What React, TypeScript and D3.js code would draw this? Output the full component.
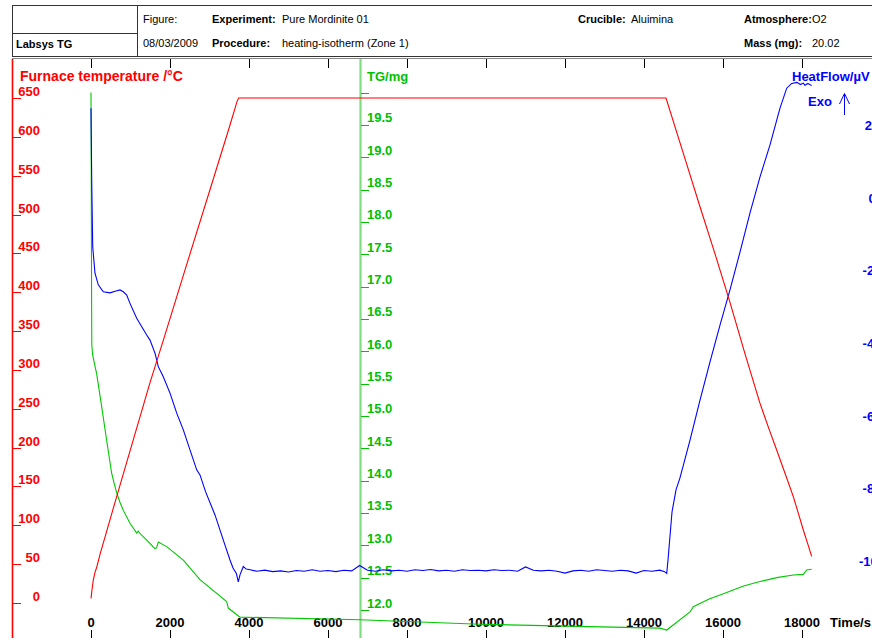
import React from 'react';
import * as d3 from 'd3';

// ---- Axis ticks ----
const timeTicks = [0, 2000, 4000, 6000, 8000, 10000, 12000, 14000, 16000, 18000];
const tempTicks = [0, 50, 100, 150, 200, 250, 300, 350, 400, 450, 500, 550, 600, 650];
const massTicks = [12.0, 12.5, 13.0, 13.5, 14.0, 14.5, 15.0, 15.5, 16.0, 16.5, 17.0, 17.5, 18.0, 18.5, 19.0, 19.5, 20.0];
const massLabelled = [12.0, 12.5, 13.0, 13.5, 14.0, 14.5, 15.0, 15.5, 16.0, 16.5, 17.0, 17.5, 18.0, 18.5, 19.0, 19.5];
const heatTicks = [20, 0, -20, -40, -60, -80, -100];

// ---- Header fields ----
const headerRow1 = [
  { label: 'Experiment:', value: 'Pure Mordinite 01', x: 212, vx: 282 },
  { label: 'Crucible:', value: 'Aluimina', x: 578, vx: 631 },
  { label: 'Atmosphere:', value: 'O2', x: 744, vx: 812 },
];
const headerRow2 = [
  { label: 'Procedure:', value: 'heating-isotherm (Zone 1)', x: 212, vx: 282 },
  { label: 'Mass (mg):', value: '20.02', x: 744, vx: 812 },
];

// ---- Furnace temperature, °C vs time, s ----
const furnaceTemp: [number, number][] = [
  [0, 6], [30, 19], [60, 30], [100, 39], [150, 47], [230, 63], [650, 137], [1070, 210],
  [1490, 283], [1830, 338], [2400, 432], [3000, 530], [3500, 612], [3700, 646], [3740, 650],
  [14557, 650], [15000, 578], [15418, 510], [15800, 449], [16177, 387], [16550, 322],
  [16937, 257], [17150, 226], [17359, 197], [17570, 167], [17780, 137], [17910, 115],
  [18033, 94], [18140, 77], [18245, 60],
];

// ---- TG, mg vs time, s ----
const tgMass: [number, number][] = [
  [0, 20.0], [5, 19.2], [10, 18.0], [15, 16.8], [20, 16.1], [40, 15.95], [90, 15.8],
  [144, 15.65], [271, 15.14], [397, 14.62], [524, 14.11], [590, 13.95], [651, 13.81],
  [730, 13.67], [818, 13.54], [987, 13.34], [1157, 13.19], [1197, 13.22], [1230, 13.19],
  [1410, 13.08], [1620, 12.95], [1660, 12.96], [1704, 13.05], [1916, 12.98], [2337, 12.77],
  [2759, 12.47], [3435, 12.13], [3476, 12.03], [3772, 11.89], [6810, 11.85], [9848, 11.78],
  [14405, 11.72], [14575, 11.69], [15165, 11.97], [15248, 12.05], [15650, 12.17],
  [16094, 12.27], [16520, 12.37], [16937, 12.44], [17360, 12.50], [17780, 12.54],
  [18033, 12.55], [18119, 12.62], [18245, 12.63],
];

// ---- Heat flow, µV vs time, s: heating ramp ----
const heatFlowRamp: [number, number][] = [
  [0, 26.5], [18, 6.7], [43, -11.6], [101, -18.9], [185, -22.1], [311, -24.0],
  [481, -24.3], [633, -23.8], [734, -23.5], [818, -24.0], [904, -24.9], [987, -27.2],
  [1157, -31.3], [1410, -35.9], [1494, -37.3], [1620, -40.9], [1704, -44.6],
  [1830, -47.4], [2000, -51.9], [2170, -57.4], [2337, -62.0], [2506, -67.5],
  [2676, -73.0], [2759, -74.4], [2900, -79.0], [3139, -85.4], [3392, -93.7],
  [3519, -97.8], [3595, -100.0], [3680, -101.5], [3729, -103.8], [3772, -101.9],
  [3856, -99.6], [3930, -100.3],
];

// ---- Heat flow during the isotherm, sampled every 200 s from 4000 s ----
const isoStart = 4000;
const isoStep = 200;
const heatFlowIso = [
  -100.4, -100.9, -100.6, -101.0, -100.8, -101.1, -100.7, -100.9, -100.5, -100.9,
  -100.7, -101.0, -100.6, -100.8, -99.3, -100.6, -100.9, -100.5, -100.8, -100.6,
  -100.9, -100.5, -100.7, -100.4, -100.8, -100.6, -100.9, -100.5, -100.7, -100.6,
  -100.8, -100.5, -100.7, -100.6, -100.9, -99.7, -100.6, -100.8, -100.6, -100.9,
  -101.4, -100.8, -100.6, -100.9, -100.5, -100.7, -100.9, -100.6, -100.8, -101.4,
  -100.7, -100.9, -100.6,
];

// ---- Heat flow, cooling ----
const heatFlowCool: [number, number][] = [
  [14520, -101.0], [14575, -101.5], [14608, -97.8], [14709, -84.6], [14810, -78.5],
  [14911, -75.2], [15165, -64.8], [15418, -53.8], [15671, -43.3], [15924, -33.2],
  [16177, -23.5], [16430, -13.1], [16684, -2.3], [16937, 7.6], [17190, 16.4],
  [17443, 26.5], [17613, 32.0], [17739, 33.3], [17873, 33.6], [17960, 33.0],
  [18033, 33.4], [18076, 32.8], [18150, 33.3], [18245, 32.7],
];

const W = 872;
const H = 638;
const FONT = "'Liberation Sans', Arial, Helvetica, sans-serif";
const RED = '#ff0000';
const GREEN = '#00c000';
const BLUE = '#0000ff';

export default function App() {
  const x = d3.scaleLinear().domain([0, 18000]).range([91, 802]);
  const yT = d3.scaleLinear().domain([0, 650]).range([603, 98]);
  const yM = d3.scaleLinear().domain([12, 20]).range([610, 92.5]);
  const yH = d3.scaleLinear().domain([-100, 20]).range([568, 131.8]);

  const heatFlow: [number, number][] = [
    ...heatFlowRamp,
    ...heatFlowIso.map((v, i) => [isoStart + i * isoStep, v] as [number, number]),
    ...heatFlowCool,
  ];

  const lineT = d3.line<[number, number]>().x((d) => x(d[0])).y((d) => yT(d[1]));
  const lineM = d3.line<[number, number]>().x((d) => x(d[0])).y((d) => yM(d[1]));
  const lineH = d3.line<[number, number]>().x((d) => x(d[0])).y((d) => yH(d[1]));

  const greenAxisX = 360.5;

  return (
    <svg
      width={W}
      height={H}
      viewBox={`0 0 ${W} ${H}`}
      style={{ position: 'absolute', left: 0, top: 0, background: '#fff', fontFamily: FONT }}
    >
      <rect x={0} y={0} width={W} height={H} fill="#fff" />

      {/* Header box */}
      <g stroke="#333" strokeWidth={1} fill="none">
        <line x1={12} y1={5.5} x2={W} y2={5.5} />
        <line x1={12.5} y1={5} x2={12.5} y2={57} />
        <line x1={137.5} y1={5} x2={137.5} y2={57} />
        <line x1={12} y1={33.5} x2={137} y2={33.5} />
        <line x1={12} y1={56.5} x2={W} y2={56.5} />
        <line x1={12} y1={58.5} x2={W} y2={58.5} stroke="#888" />
      </g>
      <g fontSize={11} fill="#000" dominantBaseline="central">
        <text x={16} y={44} fontWeight="bold">Labsys TG</text>
        <text x={143} y={19}>Figure:</text>
        <text x={143} y={43}>08/03/2009</text>
        {headerRow1.map((h) => (
          <g key={h.label}>
            <text x={h.x} y={19} fontWeight="bold">{h.label}</text>
            <text x={h.vx} y={19}>{h.value}</text>
          </g>
        ))}
        {headerRow2.map((h) => (
          <g key={h.label}>
            <text x={h.x} y={43} fontWeight="bold">{h.label}</text>
            <text x={h.vx} y={43}>{h.value}</text>
          </g>
        ))}
      </g>

      {/* Time ticks, top and bottom */}
      <g stroke="#000" strokeWidth={1}>
        {timeTicks.map((t) => (
          <g key={t}>
            <line x1={Math.round(x(t)) + 0.5} y1={59} x2={Math.round(x(t)) + 0.5} y2={68} />
            <line x1={Math.round(x(t)) + 0.5} y1={630} x2={Math.round(x(t)) + 0.5} y2={H} />
          </g>
        ))}
      </g>
      <g fontSize={13} fontWeight="bold" fill="#000" textAnchor="middle" dominantBaseline="central">
        {timeTicks.map((t) => (
          <text key={t} x={x(t)} y={622}>{t}</text>
        ))}
        <text x={830} y={622} textAnchor="start">Time/s</text>
      </g>

      {/* Furnace temperature axis (left) */}
      <line x1={12.5} y1={59} x2={12.5} y2={H} stroke={RED} strokeWidth={1.6} />
      <g stroke={RED} strokeWidth={1}>
        {tempTicks.map((v) => (
          <line key={v} x1={12} y1={Math.round(yT(v)) + 0.5} x2={21} y2={Math.round(yT(v)) + 0.5} />
        ))}
      </g>
      <g fontSize={13} fontWeight="bold" fill={RED} textAnchor="end" dominantBaseline="central">
        {tempTicks.map((v) => (
          <text key={v} x={40} y={yT(v) - 6.5}>{v}</text>
        ))}
      </g>
      <text x={20} y={76} fontSize={14} fontWeight="bold" fill={RED} dominantBaseline="central">
        Furnace temperature /°C
      </text>

      {/* TG axis (middle) */}
      <line x1={greenAxisX} y1={59} x2={greenAxisX} y2={H} stroke="#7fdc7f" strokeWidth={2.2} />
      <g stroke={GREEN} strokeWidth={1}>
        {massTicks.map((v) => (
          <line key={v} x1={361} y1={Math.round(yM(v)) + 0.5} x2={369} y2={Math.round(yM(v)) + 0.5} />
        ))}
      </g>
      <g fontSize={13} fontWeight="bold" fill={GREEN} dominantBaseline="central">
        {massLabelled.map((v) => (
          <text key={v} x={367} y={yM(v) - 7}>{v.toFixed(1)}</text>
        ))}
      </g>
      <text x={367} y={76} fontSize={13} fontWeight="bold" fill={GREEN} dominantBaseline="central">
        TG/mg
      </text>

      {/* Heat flow axis (right, partly beyond the frame) */}
      <g fontSize={13} fontWeight="bold" fill={BLUE} textAnchor="middle" dominantBaseline="central">
        {heatTicks.map((v) => (
          <text key={v} x={872} y={yH(v) - 6.5}>{v}</text>
        ))}
      </g>
      <text x={792} y={76} fontSize={13} fontWeight="bold" fill={BLUE} dominantBaseline="central">
        HeatFlow/µV
      </text>
      <text x={808} y={101} fontSize={13} fontWeight="bold" fill={BLUE} dominantBaseline="central">
        Exo
      </text>
      <path d="M844.5,115 V94 M839.5,104 L844.5,93.5 L849.5,104" stroke={BLUE} strokeWidth={1} fill="none" />

      {/* Curves */}
      <path d={lineM(tgMass) ?? ''} fill="none" stroke="#00c800" strokeWidth={1.1} />
      <path d={lineH(heatFlow) ?? ''} fill="none" stroke={BLUE} strokeWidth={1.1} />
      <path d={lineT(furnaceTemp) ?? ''} fill="none" stroke={RED} strokeWidth={1.1} />
    </svg>
  );
}
